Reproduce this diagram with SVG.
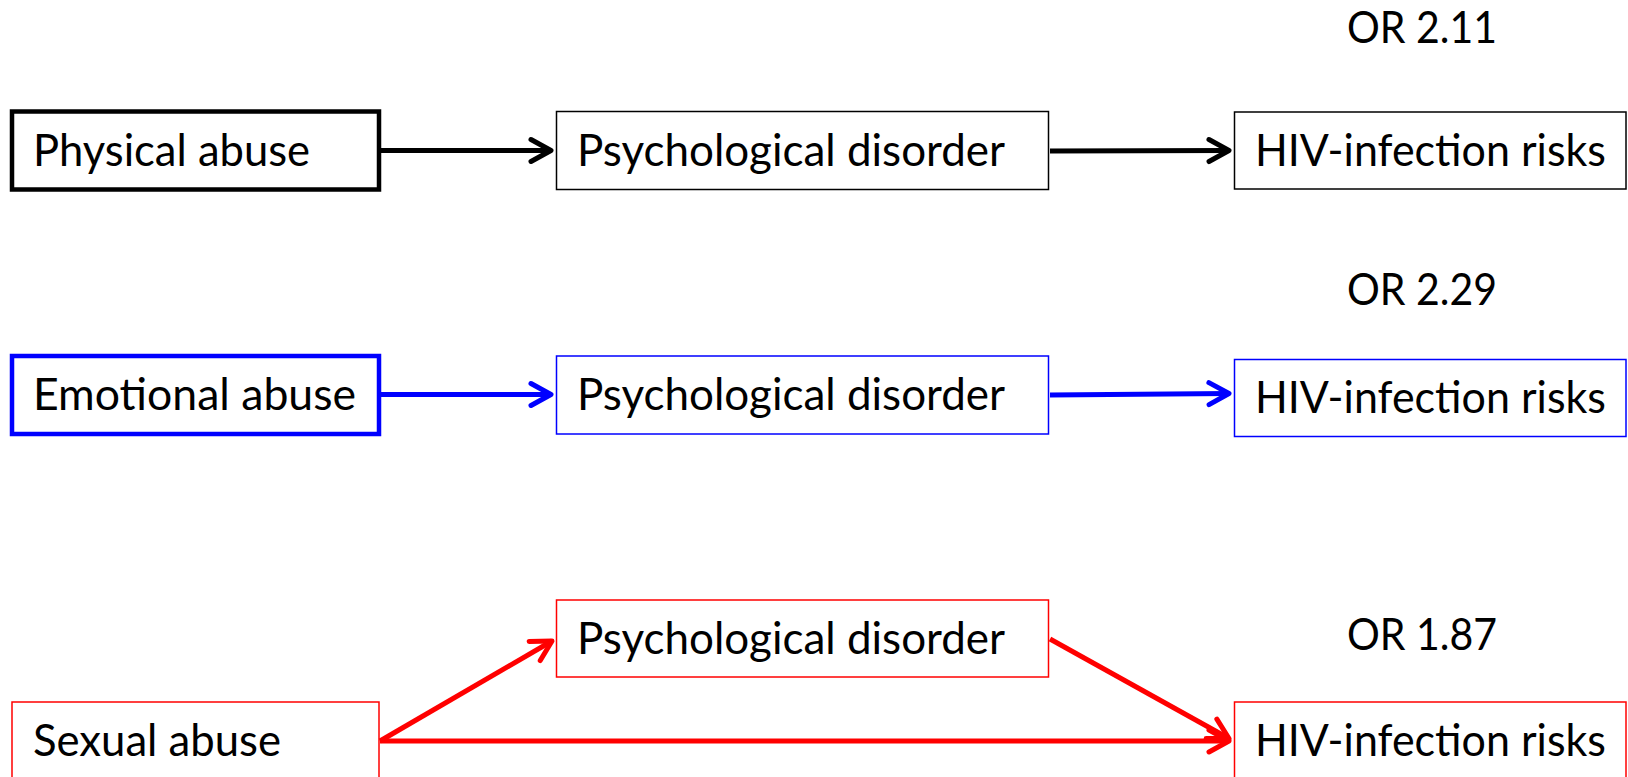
<svg xmlns="http://www.w3.org/2000/svg" width="1628" height="777" viewBox="0 0 1628 777">
<style>
  text { font-family: Lato, "Open Sans", "Liberation Sans", sans-serif; font-size: 44px; fill: #000; }
  .box { fill: #fff; }
  .thick { stroke-width: 4.5; }
  .thin { stroke-width: 1.5; }
  .k { stroke: #000; }
  .b { stroke: #0000ff; }
  .r { stroke: #ff0000; }
  .conn line { fill: none; stroke-width: 5; }
</style>
<defs>
  <marker id="ak" markerUnits="userSpaceOnUse" viewBox="-26 -16 30 32" markerWidth="30" markerHeight="32" refX="0" refY="0" orient="auto">
    <path d="M-20,-11 L0,0 L-20,11" fill="none" stroke="#000" stroke-width="5" stroke-linecap="round" stroke-linejoin="round"/>
  </marker>
  <marker id="ab" markerUnits="userSpaceOnUse" viewBox="-26 -16 30 32" markerWidth="30" markerHeight="32" refX="0" refY="0" orient="auto">
    <path d="M-20,-11 L0,0 L-20,11" fill="none" stroke="#0000ff" stroke-width="5" stroke-linecap="round" stroke-linejoin="round"/>
  </marker>
  <marker id="ar" markerUnits="userSpaceOnUse" viewBox="-26 -16 30 32" markerWidth="30" markerHeight="32" refX="0" refY="0" orient="auto">
    <path d="M-20,-11 L0,0 L-20,11" fill="none" stroke="#ff0000" stroke-width="5" stroke-linecap="round" stroke-linejoin="round"/>
  </marker>
</defs>
<rect width="1628" height="777" fill="#fff"/>

<g id="or1"><text x="1347" y="43" textLength="150" lengthAdjust="spacingAndGlyphs">OR 2.11</text></g>
<g id="or2"><text x="1347" y="305" textLength="150" lengthAdjust="spacingAndGlyphs">OR 2.29</text></g>
<g id="or3"><text x="1347" y="650" textLength="150" lengthAdjust="spacingAndGlyphs">OR 1.87</text></g>

<g id="physical-abuse">
  <rect class="box thick k" x="12" y="111.5" width="367" height="78"/>
  <text x="33" y="166" textLength="277" lengthAdjust="spacingAndGlyphs">Physical abuse</text>
</g>
<g id="psych-1">
  <rect class="box thin k" x="556.5" y="111.5" width="492" height="78"/>
  <text x="577" y="166" textLength="428" lengthAdjust="spacingAndGlyphs">Psychological disorder</text>
</g>
<g id="hiv-1">
  <rect class="box thin k" x="1234.5" y="112" width="391.5" height="77"/>
  <text x="1255" y="166" textLength="351" lengthAdjust="spacingAndGlyphs">HIV-infection risks</text>
</g>

<g id="emotional-abuse">
  <rect class="box thick b" x="12" y="356" width="367" height="78"/>
  <text x="33" y="410" textLength="323" lengthAdjust="spacingAndGlyphs">Emotional abuse</text>
</g>
<g id="psych-2">
  <rect class="box thin b" x="556.5" y="356" width="492" height="78"/>
  <text x="577" y="410" textLength="428" lengthAdjust="spacingAndGlyphs">Psychological disorder</text>
</g>
<g id="hiv-2">
  <rect class="box thin b" x="1234.5" y="359.5" width="391.5" height="77"/>
  <text x="1255" y="413" textLength="351" lengthAdjust="spacingAndGlyphs">HIV-infection risks</text>
</g>

<g id="sexual-abuse">
  <rect class="box thin r" x="12" y="702" width="367" height="80"/>
  <text x="33" y="756" textLength="248" lengthAdjust="spacingAndGlyphs">Sexual abuse</text>
</g>
<g id="psych-3">
  <rect class="box thin r" x="556.5" y="600" width="492" height="77"/>
  <text x="577" y="654" textLength="428" lengthAdjust="spacingAndGlyphs">Psychological disorder</text>
</g>
<g id="hiv-3">
  <rect class="box thin r" x="1234.5" y="702" width="391.5" height="80"/>
  <text x="1255" y="756" textLength="351" lengthAdjust="spacingAndGlyphs">HIV-infection risks</text>
</g>

<g id="connectors" class="conn">
  <line class="k" x1="381" y1="150.5" x2="551" y2="150.5" marker-end="url(#ak)"/>
  <line class="k" x1="1050" y1="151" x2="1229" y2="150.5" marker-end="url(#ak)"/>
  <line class="b" x1="381" y1="394.5" x2="551" y2="394.5" marker-end="url(#ab)"/>
  <line class="b" x1="1050" y1="395" x2="1229" y2="393.5" marker-end="url(#ab)"/>
  <line class="r" x1="380" y1="741" x2="552" y2="641" marker-end="url(#ar)"/>
  <line class="r" x1="380" y1="741" x2="1229" y2="741" marker-end="url(#ar)"/>
  <line class="r" x1="1050" y1="639" x2="1229" y2="738.5" marker-end="url(#ar)"/>
</g>
</svg>
